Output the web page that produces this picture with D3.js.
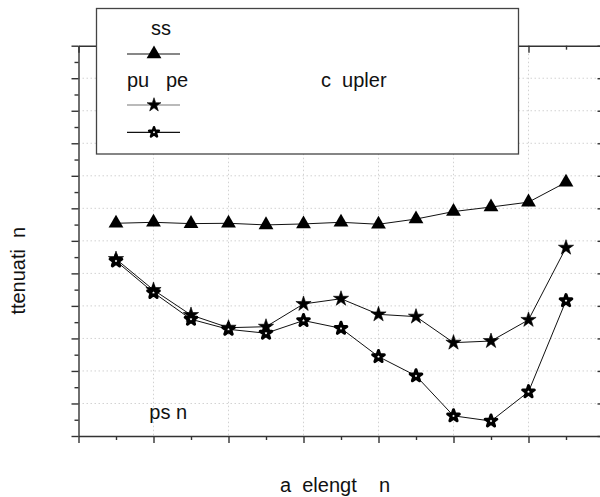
<!DOCTYPE html>
<html>
<head>
  <script src="https://cdnjs.cloudflare.com/ajax/libs/d3/7.8.5/d3.min.js"></script>
  <style>
    body { margin: 0; background: #fff; }
    svg { display: block; font-family: "Liberation Sans", Arial, sans-serif; }
    .grid line { stroke: #d2d2d2; stroke-dasharray: 1.5,2.5; }
    .axis path, .axis line { stroke: #333; stroke-width: 1.4; }
    .series { fill: none; stroke: #111; stroke-width: 1; }
    .label { font-size: 20px; fill: #111; }
  </style>
</head>
<body>
  <div id="graph"></div>
  <script>
    // Wavelength points (13 per series)
    const wavelength = [1530, 1535, 1540, 1545, 1550, 1555, 1560, 1565, 1570, 1575, 1580, 1585, 1590];
    // Series values (arbitrary units, no tick labels shown)
    const loss    = [6.54, 6.57, 6.53, 6.54, 6.49, 6.52, 6.57, 6.51, 6.67, 6.90, 7.04, 7.19, 7.80];
    const pumpOn  = [5.44, 4.49, 3.72, 3.33, 3.36, 4.06, 4.22, 3.74, 3.67, 2.87, 2.92, 3.57, 5.79];
    const pumpOff = [5.38, 4.41, 3.59, 3.28, 3.16, 3.55, 3.31, 2.44, 1.85, 0.62, 0.46, 1.36, 4.16];
    const xMajor = [1525, 1535, 1545, 1555, 1565, 1575, 1585, 1595];
    const xMinor = [1530, 1540, 1550, 1560, 1570, 1580, 1590];
    const yMajor = [0, 1, 2, 3, 4, 5, 6, 7, 8, 9, 10, 11, 12];
    const yMinor = [0.5, 1.5, 2.5, 3.5, 4.5, 5.5, 6.5, 7.5, 8.5, 9.5, 10.5, 11.5];

    const W = 600, H = 497;
    const margin = {top: 45.7, left: 78.5};
    const width = 525, height = 390.3;

    const svg = d3.select("#graph").append("svg")
      .attr("width", W).attr("height", H);
    const g = svg.append("g")
      .attr("transform", `translate(${margin.left},${margin.top})`);

    const x = d3.scaleLinear().domain([1525, 1595]).range([0, width]);
    const y = d3.scaleLinear().domain([0, 12]).range([height, 0]);

    // Grid
    g.append("g").attr("class", "grid")
      .selectAll("line").data(yMajor.slice(1, -1)).join("line")
        .attr("x1", 0).attr("x2", width)
        .attr("y1", d => y(d)).attr("y2", d => y(d));
    g.append("g").attr("class", "grid")
      .selectAll("line").data(xMajor.slice(1, -1)).join("line")
        .attr("y1", 0).attr("y2", height)
        .attr("x1", d => x(d)).attr("x2", d => x(d));

    // Axes: left/bottom ticks outward, top/right ticks inward
    function addAxis(maker, scale, transform, major, minor, bigTick, smallTick) {
      g.append("g").attr("class", "axis").attr("transform", transform)
        .call(maker(scale).tickValues(major).tickSize(bigTick).tickSizeOuter(0).tickFormat(""));
      g.append("g").attr("class", "axis").attr("transform", transform)
        .call(maker(scale).tickValues(minor).tickSize(smallTick).tickSizeOuter(0).tickFormat(""))
        .select(".domain").remove();
    }
    addAxis(d3.axisLeft, y, "translate(0,0)", yMajor, yMinor, 7, 4);
    addAxis(d3.axisBottom, x, `translate(0,${height})`, xMajor, xMinor, 7, 4);
    addAxis(d3.axisBottom, x, "translate(0,0)", xMajor, xMinor, 7, 4);
    addAxis(d3.axisLeft, y, `translate(${width},0)`, yMajor, yMinor, 6, 3);

    // Series
    const series = [
      {vals: loss,    sym: d3.symbolTriangle, size: 95, fill: "#000", stroke: "none", sw: 0},
      {vals: pumpOn,  sym: d3.symbolStar,     size: 72, fill: "#000", stroke: "#000", sw: 0.6},
      {vals: pumpOff, sym: d3.symbolStar,     size: 42, fill: "#fff", stroke: "#000", sw: 3}
    ];
    const line = d3.line().x(d => x(d[0])).y(d => y(d[1]));

    series.forEach(s => {
      const pts = wavelength.map((w, i) => [w, s.vals[i]]);
      g.append("path").datum(pts).attr("class", "series").attr("d", line);
    });
    series.forEach(s => {
      const pts = wavelength.map((w, i) => [w, s.vals[i]]);
      g.append("g").selectAll("path").data(pts).join("path")
        .attr("transform", d => `translate(${x(d[0])},${y(d[1])})`)
        .attr("d", d3.symbol().type(s.sym).size(s.size))
        .attr("fill", s.fill).attr("stroke", s.stroke)
        .attr("stroke-width", s.sw).attr("stroke-linejoin", "round");
    });

    // Legend
    const leg = svg.append("g");
    leg.append("rect")
      .attr("x", 96.5).attr("y", 8.5).attr("width", 422).attr("height", 145.5)
      .attr("fill", "#fff").attr("stroke", "#444").attr("stroke-width", 1.3);
    leg.append("text").attr("class", "label").attr("x", 151).attr("y", 35).text("ss");
    leg.append("text").attr("class", "label").attr("x", 127).attr("y", 87).attr("xml:space", "preserve").text("pu   pe");
    leg.append("text").attr("class", "label").attr("x", 321).attr("y", 87).attr("xml:space", "preserve").text("c  upler");
    const legRows = [
      {yy: 54, s: series[0], color: "#111", size: 95, sw: 0},
      {yy: 105, s: series[1], color: "#777", size: 60, sw: 0.6},
      {yy: 132.3, s: series[2], color: "#111", size: 30, sw: 2.4}
    ];
    legRows.forEach(r => {
      leg.append("line").attr("x1", 127).attr("x2", 180).attr("y1", r.yy).attr("y2", r.yy)
        .attr("stroke", r.color).attr("stroke-width", 1.2);
      leg.append("path")
        .attr("transform", `translate(154,${r.yy})`)
        .attr("d", d3.symbol().type(r.s.sym).size(r.size))
        .attr("fill", r.s.fill).attr("stroke", r.s.stroke)
        .attr("stroke-width", r.sw).attr("stroke-linejoin", "round");
    });

    // Annotations and axis titles
    svg.append("text").attr("class", "label").attr("x", 149.3).attr("y", 419).attr("xml:space", "preserve").text("ps n");
    svg.append("text").attr("class", "label").attr("x", 280).attr("y", 492).attr("xml:space", "preserve").text("a  elengt    n");
    svg.append("text").attr("class", "label")
      .attr("transform", "translate(25,270.7) rotate(-90)")
      .attr("text-anchor", "middle").attr("xml:space", "preserve")
      .text("ttenuati  n");
  </script>
</body>
</html>
